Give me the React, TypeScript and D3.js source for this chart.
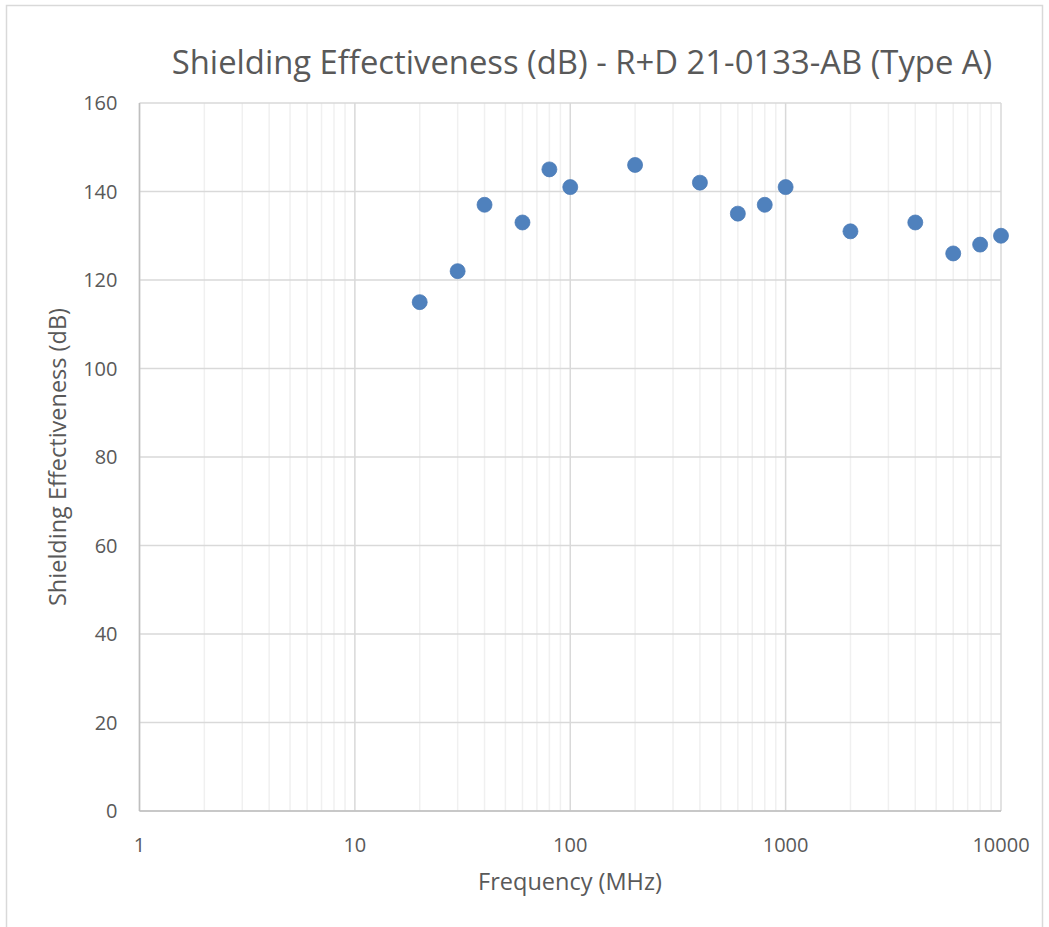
import React from "react";
import * as d3 from "d3";

// frequencies (MHz) and measured shielding effectiveness (dB)
const freqs = [20, 30, 40, 60, 80, 100, 200, 400, 600, 800, 1000, 2000, 4000, 6000, 8000, 10000];
const seValues = [115, 122, 137, 133, 145, 141, 146, 142, 135, 137, 141, 131, 133, 126, 128, 130];
const yTicks = [0, 20, 40, 60, 80, 100, 120, 140, 160];
const xTicks = [1, 10, 100, 1000, 10000];

const W = 1049;
const H = 927;

export default function App() {
  const margin = { top: 103, bottom: 116, left: 139.5, right: 48 };
  const innerWidth = W - margin.left - margin.right;
  const innerHeight = H - margin.top - margin.bottom;

  const xScale = d3.scaleLog().domain([1, 10000]).range([0, innerWidth]);
  const yScale = d3.scaleLinear().domain([0, 160]).range([innerHeight, 0]);

  // minor grid: 2..9 within each decade
  const minor: number[] = [];
  for (let dec = 1; dec < 10000; dec *= 10) {
    for (let k = 2; k <= 9; k++) minor.push(dec * k);
  }

  const points = freqs.map((f, i) => ({ f, v: seValues[i] }));
  const textColor = "#595959";
  const font = "'Open Sans', sans-serif";

  return (
    <svg width={W} height={H} style={{ position: "absolute", left: 0, top: 0 }} fontFamily={font}>
      <rect x={0} y={0} width={W} height={H} fill="#fff" />
      <rect x={6.5} y={5.5} width={1036} height={940} fill="none" stroke="#d9d9d9" strokeWidth={1.5} />
      <text x={582} y={74} textAnchor="middle" fontSize={32.8} fill={textColor}>
        Shielding Effectiveness (dB) - R+D 21-0133-AB (Type A)
      </text>
      <g transform={`translate(${margin.left},${margin.top})`}>
        {minor.map((m) => (
          <line key={"m" + m} x1={xScale(m)} x2={xScale(m)} y1={0} y2={innerHeight} stroke="#f0f0f0" strokeWidth={1.5} />
        ))}
        {yTicks.map((t) => (
          <line key={"h" + t} x1={0} x2={innerWidth} y1={yScale(t)} y2={yScale(t)} stroke="#d9d9d9" strokeWidth={1.5} />
        ))}
        {xTicks.map((t) => (
          <line key={"v" + t} x1={xScale(t)} x2={xScale(t)} y1={0} y2={innerHeight} stroke="#d9d9d9" strokeWidth={1.5} />
        ))}
        <line x1={0} x2={0} y1={0} y2={innerHeight} stroke="#bfbfbf" strokeWidth={1.5} />
        <line x1={0} x2={innerWidth} y1={innerHeight} y2={innerHeight} stroke="#bfbfbf" strokeWidth={1.5} />
        {yTicks.map((t) => (
          <text key={"yl" + t} x={-22} y={yScale(t) + 7} textAnchor="end" fontSize={20} fill={textColor}>
            {t}
          </text>
        ))}
        {xTicks.map((t) => (
          <text key={"xl" + t} x={xScale(t)} y={innerHeight + 41} textAnchor="middle" fontSize={20} fill={textColor}>
            {t}
          </text>
        ))}
        {points.map((p) => (
          <circle key={p.f} cx={xScale(p.f)} cy={yScale(p.v)} r={7.5} fill="#4f81bd" stroke="#4a7ab5" strokeWidth={0.75} />
        ))}
      </g>
      <text x={570} y={890} textAnchor="middle" fontSize={23.5} fill={textColor}>
        Frequency (MHz)
      </text>
      <text transform={`translate(66,457) rotate(-90)`} textAnchor="middle" fontSize={23.5} fill={textColor}>
        Shielding Effectiveness (dB)
      </text>
    </svg>
  );
}
